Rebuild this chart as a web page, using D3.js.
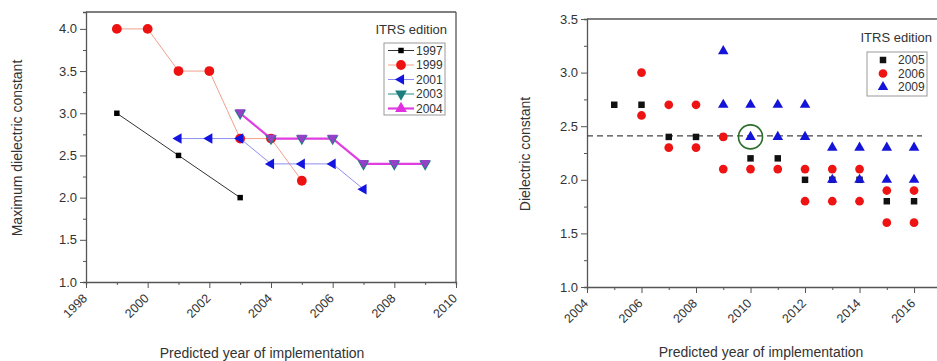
<!DOCTYPE html>
<html>
<head>
<meta charset="utf-8">
<script src="https://cdn.jsdelivr.net/npm/d3@7"></script>
<style>
  html, body { margin: 0; padding: 0; background: #fff; }
  svg { display: block; font-family: "Liberation Sans", Arial, sans-serif; }
  text { fill: #333; }
</style>
</head>
<body>
<svg id="chart" width="937" height="361"></svg>
<script>
// ---- Left panel: maximum dielectric constant per ITRS edition ----
const ed1997Years = [1999, 2001, 2003];
const ed1997Values = [3.0, 2.5, 2.0];
const ed1999Years = [1999, 2000, 2001, 2002, 2003, 2004, 2005];
const ed1999Values = [4.0, 4.0, 3.5, 3.5, 2.7, 2.7, 2.2];
const ed2001Years = [2001, 2002, 2003, 2004, 2005, 2006, 2007];
const ed2001Values = [2.7, 2.7, 2.7, 2.4, 2.4, 2.4, 2.1];
const ed2003Years = [2003, 2004, 2005, 2006, 2007, 2008, 2009];
const ed2003Values = [3.0, 2.7, 2.7, 2.7, 2.4, 2.4, 2.4];
const ed2004Years = [2003, 2004, 2005, 2006, 2007, 2008, 2009];
const ed2004Values = [3.0, 2.7, 2.7, 2.7, 2.4, 2.4, 2.4];
const leftLegendLabels = ["1997", "1999", "2001", "2003", "2004"];
const leftXTicks = [1998, 2000, 2002, 2004, 2006, 2008, 2010];
const leftYTicks = [1.0, 1.5, 2.0, 2.5, 3.0, 3.5, 4.0];

// ---- Right panel: dielectric constant per ITRS edition ----
const ed2005Years = [2005, 2006, 2007, 2008, 2009, 2010, 2011, 2012, 2013, 2014, 2015, 2016];
const ed2005Values = [2.7, 2.7, 2.4, 2.4, 2.4, 2.2, 2.2, 2.0, 2.0, 2.0, 1.8, 1.8];
const ed2006Years = [2006, 2006, 2007, 2007, 2008, 2008, 2009, 2009, 2010, 2011, 2012, 2012, 2013, 2013, 2014, 2014, 2015, 2015, 2016, 2016];
const ed2006Values = [3.0, 2.6, 2.7, 2.3, 2.7, 2.3, 2.4, 2.1, 2.1, 2.1, 2.1, 1.8, 2.1, 1.8, 2.1, 1.8, 1.9, 1.6, 1.9, 1.6];
const ed2009Years = [2009, 2009, 2010, 2010, 2011, 2011, 2012, 2012, 2013, 2013, 2014, 2014, 2015, 2015, 2016, 2016];
const ed2009Values = [3.2, 2.7, 2.7, 2.4, 2.7, 2.4, 2.7, 2.4, 2.3, 2.0, 2.3, 2.0, 2.3, 2.0, 2.3, 2.0];
const rightLegendLabels = ["2005", "2006", "2009"];
const rightXTicks = [2004, 2006, 2008, 2010, 2012, 2014, 2016];
const rightYTicks = [1.0, 1.5, 2.0, 2.5, 3.0, 3.5];
const referenceLevel = 2.41;
const highlightYear = 2010;
const highlightValue = 2.4;

const svg = d3.select("#chart");
const fmt = d3.format(".1f");
const frameColor = "#555";

function zip(xs, ys) { return xs.map((x, i) => ({ x, y: ys[i] })); }

// Draws the box frame, outward ticks and labels for one panel
function drawAxes(g, x, y, xTicks, yTicks, opts) {
  const [x0, x1] = x.range();
  const [y0, y1] = y.range();

  // frame
  g.append("line").attr("x1", x0).attr("x2", x1).attr("y1", y1).attr("y2", y1)
    .attr("stroke", frameColor).attr("stroke-width", 1.3);
  g.append("line").attr("x1", x1).attr("x2", x1).attr("y1", y0).attr("y2", y1)
    .attr("stroke", frameColor).attr("stroke-width", 1.3);

  // bottom axis
  const xMinor = d3.range(xTicks[0], xTicks[xTicks.length - 1] + 1, 1);
  const xAxis = d3.axisBottom(x).tickValues(xMinor).tickSize(3).tickFormat("");
  const gx = g.append("g").attr("transform", `translate(0,${y0})`).call(xAxis);
  gx.selectAll(".tick line").attr("stroke", frameColor)
    .attr("y2", d => xTicks.includes(d) ? 6 : 3);
  gx.select(".domain").attr("stroke", frameColor).attr("stroke-width", 1.3);
  g.selectAll(".xlab").data(xTicks).enter().append("text")
    .attr("class", "xlab")
    .attr("transform", d => `translate(${x(d) + 2},${y0 + 17}) rotate(-45)`)
    .attr("text-anchor", "end")
    .attr("font-size", 12.5).text(d => d);

  // left axis
  const yMinor = d3.range(yTicks[0], yTicks[yTicks.length - 1] + 0.001, 0.25);
  const yAxis = d3.axisLeft(y).tickValues(yMinor).tickSize(3).tickFormat("");
  const gy = g.append("g").attr("transform", `translate(${x0},0)`).call(yAxis);
  gy.selectAll(".tick line").attr("stroke", frameColor)
    .attr("x2", d => yTicks.some(t => Math.abs(t - d) < 1e-6) ? -6 : -3);
  gy.select(".domain").attr("stroke", frameColor).attr("stroke-width", 1.3);
  g.selectAll(".ylab").data(yTicks).enter().append("text")
    .attr("class", "ylab")
    .attr("x", x0 - 9).attr("y", d => y(d)).attr("dy", "0.35em")
    .attr("text-anchor", "end").attr("font-size", 13).text(d => fmt(d));

  // titles
  g.append("text").attr("x", (x0 + opts.titleRight) / 2).attr("y", opts.xTitleY)
    .attr("text-anchor", "middle").attr("font-size", 14).text(opts.xTitle);
  g.append("text")
    .attr("transform", `translate(${opts.yTitleX},${(y0 + y1) / 2 + 1}) rotate(-90)`)
    .attr("text-anchor", "middle").attr("font-size", 14).text(opts.yTitle);
}

// ================= Left panel =================
const xL = d3.scaleLinear().domain([1998, 2010]).range([86, 456]);
const yL = d3.scaleLinear().domain([1, 4.2]).range([282, 12]);
const gL = svg.append("g");

drawAxes(gL, xL, yL, leftXTicks, leftYTicks, {
  xTitle: "Predicted year of implementation", xTitleY: 358, titleRight: 438,
  yTitle: "Maximum dielectric constant", yTitleX: 22
});

const leftSeries = [
  { name: "1997", pts: zip(ed1997Years, ed1997Values), line: "#333", lw: 1,
    sym: d3.symbolSquare, size: 30, rot: 0, fill: "#000" },
  { name: "1999", pts: zip(ed1999Years, ed1999Values), line: "#f2a08c", lw: 1,
    sym: d3.symbolCircle, size: 75, rot: 0, fill: "#ee1111" },
  { name: "2001", pts: zip(ed2001Years, ed2001Values), line: "#8e8ef2", lw: 1,
    sym: d3.symbolTriangle, size: 48, rot: -90, fill: "#1414e0" },
  { name: "2003", pts: zip(ed2003Years, ed2003Values), line: "#2a8a8a", lw: 1,
    sym: d3.symbolTriangle, size: 60, rot: 180, fill: "#1c7f7f" },
  { name: "2004", pts: zip(ed2004Years, ed2004Values), line: "#e03ee0", lw: 2.2,
    sym: d3.symbolTriangle, size: 60, rot: 0, fill: "#e030e0" }
];

const lineL = d3.line().x(d => xL(d.x)).y(d => yL(d.y));
leftSeries.forEach(s => {
  gL.append("path").datum(s.pts).attr("d", lineL)
    .attr("fill", "none").attr("stroke", s.line).attr("stroke-width", s.lw);
});
// 2004 markers sit on top of the 2003 ones and blend to violet
leftSeries.forEach(s => {
  const overlay = s.name === "2004";
  gL.selectAll(null).data(s.pts).enter().append("path")
    .attr("d", d3.symbol().type(s.sym).size(overlay ? 44 : s.size)())
    .attr("transform", d => `translate(${xL(d.x)},${yL(d.y) - (overlay ? 1 : 0)}) rotate(${overlay ? 180 : s.rot})`)
    .attr("fill", overlay ? "#9440c8" : s.fill);
});

// legend (left)
gL.append("text").attr("x", 447).attr("y", 34).attr("text-anchor", "end")
  .attr("font-size", 13).text("ITRS edition");
gL.append("rect").attr("x", 384).attr("y", 43).attr("width", 61).attr("height", 72)
  .attr("fill", "#fff").attr("stroke", "#999").attr("stroke-width", 1);
const legYL = d3.scalePoint().domain(leftLegendLabels).range([50.5, 108.5]);
leftSeries.forEach(s => {
  const yy = legYL(s.name);
  gL.append("line").attr("x1", 388).attr("x2", 414).attr("y1", yy).attr("y2", yy)
    .attr("stroke", s.line).attr("stroke-width", s.lw);
  gL.append("path").attr("d", d3.symbol().type(s.sym).size(s.size)())
    .attr("transform", `translate(401,${yy}) rotate(${s.rot})`).attr("fill", s.fill);
  gL.append("text").attr("x", 416).attr("y", yy).attr("dy", "0.36em")
    .attr("font-size", 12).text(s.name);
});

// ================= Right panel =================
const xR = d3.scaleLinear().domain([2004, 2017]).range([587, 941.3]);
const yR = d3.scaleLinear().domain([1, 3.5]).range([287, 19]);
const gR = svg.append("g");

drawAxes(gR, xR, yR, rightXTicks, rightYTicks, {
  xTitle: "Predicted year of implementation", xTitleY: 357, titleRight: 935,
  yTitle: "Dielectric constant", yTitleX: 530
});

// reference level
gR.append("line").attr("x1", 587).attr("x2", 922)
  .attr("y1", yR(referenceLevel)).attr("y2", yR(referenceLevel))
  .attr("stroke", "#444").attr("stroke-width", 1.3).attr("stroke-dasharray", "6,4");

const rightSeries = [
  { name: "2005", pts: zip(ed2005Years, ed2005Values), sym: d3.symbolSquare, size: 42, fill: "#111" },
  { name: "2006", pts: zip(ed2006Years, ed2006Values), sym: d3.symbolCircle, size: 60, fill: "#ee1414" },
  { name: "2009", pts: zip(ed2009Years, ed2009Values), sym: d3.symbolTriangle, size: 48, fill: "#1414d8" }
];
rightSeries.forEach(s => {
  gR.selectAll(null).data(s.pts).enter().append("path")
    .attr("d", d3.symbol().type(s.sym).size(s.size)())
    .attr("transform", d => `translate(${xR(d.x)},${yR(d.y)})`)
    .attr("fill", s.fill);
});

// highlighted point
gR.append("circle").attr("cx", xR(highlightYear)).attr("cy", yR(highlightValue))
  .attr("r", 12).attr("fill", "none").attr("stroke", "#2c6e2c").attr("stroke-width", 1.6);

// legend (right)
gR.append("text").attr("x", 932).attr("y", 42).attr("text-anchor", "end")
  .attr("font-size", 13).text("ITRS edition");
gR.append("rect").attr("x", 867).attr("y", 52).attr("width", 60).attr("height", 44)
  .attr("fill", "#fff").attr("stroke", "#999").attr("stroke-width", 1);
const legYR = d3.scalePoint().domain(rightLegendLabels).range([60, 87]);
rightSeries.forEach(s => {
  const yy = legYR(s.name);
  gR.append("path").attr("d", d3.symbol().type(s.sym).size(s.size)())
    .attr("transform", `translate(883,${yy})`).attr("fill", s.fill);
  gR.append("text").attr("x", 898).attr("y", yy).attr("dy", "0.36em")
    .attr("font-size", 12).text(s.name);
});
</script>
</body>
</html>
